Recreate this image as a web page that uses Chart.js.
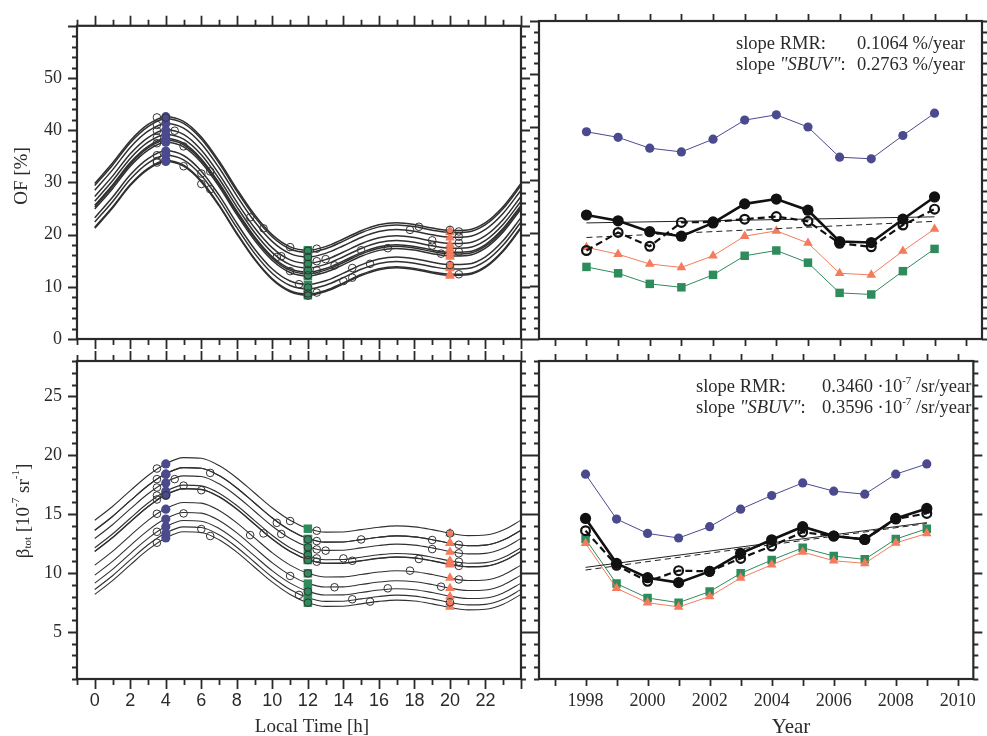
<!DOCTYPE html>
<html><head><meta charset="utf-8">
<script src="https://cdn.jsdelivr.net/npm/chart.js@4.4.1/dist/chart.umd.min.js"></script>
<style>
html,body{margin:0;padding:0;background:#fff;}
#wrap{position:relative;width:987px;height:736px;overflow:hidden;background:#fff;}
#wrap canvas{position:absolute;left:0;top:0;}
</style></head>
<body><div id="wrap">
<canvas id="cTL" width="987" height="736"></canvas>
<canvas id="cTR" width="987" height="736"></canvas>
<canvas id="cBL" width="987" height="736"></canvas>
<canvas id="cBR" width="987" height="736"></canvas>
</div>
<script>
// ---------------- data ----------------
const years = [1998,1999,2000,2001,2002,2003,2004,2005,2006,2007,2008,2009];
// OF [%]
const of04h  = [39.1, 38.05, 36.0, 35.3, 37.7, 41.3, 42.3, 40.0, 34.3, 34.0, 38.4, 42.6];
const of12h  = [13.6, 12.4, 10.4, 9.75, 12.1, 15.7, 16.7, 14.4, 8.7, 8.4, 12.8, 17.0];
const of20h  = [17.3, 16.0, 14.15, 13.5, 15.7, 19.4, 20.4, 18.1, 12.4, 12.1, 16.6, 20.75];
const ofRMR  = [23.4, 22.3, 20.25, 19.4, 21.9, 25.5, 26.4, 24.3, 18.4, 18.2, 22.6, 26.8];
const ofSBUV = [16.7, 20.1, 17.5, 22.0, 22.1, 22.6, 23.1, 22.2, 18.05, 17.4, 21.5, 24.5];
const ofTrendYears = [1998, 2009];
const ofTrendRMR  = [21.9, 23.05];
const ofTrendSBUV = [19.15, 22.2];
// beta_tot [1e-7 sr^-1]
const b04h  = [18.39, 14.58, 13.36, 12.97, 13.93, 15.42, 16.58, 17.65, 16.95, 16.69, 18.39, 19.26];
const b12h  = [12.88, 9.1, 7.88, 7.48, 8.42, 9.97, 11.1, 12.14, 11.44, 11.16, 12.88, 13.76];
const b20h  = [12.52, 8.7, 7.48, 7.12, 8.0, 9.58, 10.7, 11.78, 11.04, 10.82, 12.55, 13.36];
const bRMR  = [14.63, 10.82, 9.6, 9.18, 10.14, 11.67, 12.82, 13.93, 13.14, 12.85, 14.63, 15.48];
const bSBUV = [13.59, 10.65, 9.29, 10.2, 10.14, 11.24, 12.29, 13.47, 13.14, 12.85, 14.58, 15.06];
const bTrendRMR  = [10.48, 14.28];
const bTrendSBUV = [10.25, 14.2];
// diurnal curve shapes (deviation from the yearly mean), read hourly from 0 to 24 h
const hours = [0,1,2,3,4,5,6,7,8,9,10,11,12,13,14,15,16,17,18,19,20,21,22,23,24];
const ofShape = [3.0,6.9,11.2,14.3,15.8,14.9,11.9,7.3,1.92,-3.0,-6.85,-9.15,-9.8,-9.1,-7.64,-6.05,-4.92,-4.54,-4.87,-5.55,-6.0,-5.9,-4.5,-1.4,3.0];
const bShape  = [-1.0,0.17,1.51,2.80,3.80,4.32,4.26,3.64,2.59,1.31,0.04,-1.0,-1.70,-2.01,-2.00,-1.80,-1.59,-1.48,-1.56,-1.80,-2.10,-2.31,-2.26,-1.83,-1.0];
// open circles on the diurnal panels (local time, value)
const ofCircT = [3.5,3.5,3.5,3.5,3.5,3.5,3.5,3.5,4,4.5,5,5,6,6,6.5,6.5,8.75,9.5,10.25,10.5,11,11,11.5,12,12,12,12,12,12,12,12,12.5,12.5,12.5,12.5,13,13.5,14,14.5,14.5,15,15.5,16.5,17.75,18.25,19,19,19.5,20,20,20.5,20.5,20.5,20.5,20.5];
const ofCircV = [42.45,41.0,39.9,38.6,37.5,35.2,34.1,33.8,42.4,39.9,36.9,33.1,31.7,29.7,32.1,28.7,23.3,21.2,15.7,15.85,17.6,13.0,10.5,16.9,15.7,14.4,13.15,12.2,9.87,8.74,8.3,17.3,14.9,13.15,8.9,15.3,14.1,11.1,13.6,11.75,17.0,14.4,17.4,20.9,21.5,18.9,17.9,16.35,20.9,14.15,20.6,19.6,18.4,16.7,12.4];
const bCircT = [3.5,3.5,3.5,3.5,3.5,3.5,3.5,3.5,4,4.5,5,5,6,6,6.5,6.5,8.75,9.5,10.25,10.5,11,11,11.5,12,12,12,12,12,12,12,12.5,12.5,12.5,12.5,12.5,13,13.5,14,14.5,14.5,15,15.5,16.5,17.75,18.25,19,19,19.5,20,20,20.5,20.5,20.5,20.5,20.5];
const bCircV = [18.87,17.97,17.26,16.58,16.24,15.03,13.5,12.57,16.6,17.97,17.42,15.06,17.03,13.73,18.5,13.14,13.22,13.36,14.26,13.31,14.41,9.75,8.14,12.85,12.18,11.53,11.1,9.97,8.42,7.48,13.59,12.71,12.0,11.24,10.96,11.9,8.79,11.24,11.04,7.77,12.85,7.57,8.7,10.2,11.19,12.8,12.03,8.84,13.36,7.51,12.4,11.67,10.96,10.6,9.45];
// tick labels
const hourTickLabels = [0,2,4,6,8,10,12,14,16,18,20,22];
const yearTickLabels = [1998,2000,2002,2004,2006,2008,2010];
const ofTickLabels = [0,10,20,30,40,50];
const bTickLabels = [5,10,15,20,25];

// ---------------- styling ----------------
const SERIF = "'Liberation Serif','Times New Roman',serif";
const SANS = "'Liberation Sans',Arial,sans-serif";
const INK = '#2a2a2a';
const PURPLE = '#4b4a8e', GREEN = '#2e8b5c', ORANGE = '#f47b5b';
const W = 987, H = 736;

function tickList(from, to, step, majEvery, majLen, minLen) {
  const out = [];
  for (let v = from; v <= to + 1e-9; v += step) {
    const r = v / majEvery;
    out.push([v, Math.abs(r - Math.round(r)) < 1e-6 ? majLen : minLen]);
  }
  return out;
}

function drawRuns(ctx, runs, x, y, align) {
  let total = 0;
  runs.forEach(r => {
    ctx.font = (r.italic ? 'italic ' : '') + r.size + 'px ' + SERIF;
    r.w = ctx.measureText(r.t).width; total += r.w;
  });
  let cx = align === 'center' ? x - total / 2 : x;
  ctx.textAlign = 'left';
  runs.forEach(r => {
    ctx.font = (r.italic ? 'italic ' : '') + r.size + 'px ' + SERIF;
    ctx.fillText(r.t, cx, y + (r.dy || 0));
    cx += r.w;
  });
}

const panelCfg = {
  cTL: {
    xTicks: tickList(-1, 24, 1, 2, 10, 6), yTicks: tickList(0, 60, 2, 10, 9, 5),
    texts(ctx) {
      ctx.save(); ctx.translate(22, 176); ctx.rotate(-Math.PI / 2);
      ctx.textBaseline = 'middle'; ctx.fillStyle = INK;
      drawRuns(ctx, [{t: 'OF [%]', size: 19}], 0, 0, 'center');
      ctx.restore();
    }
  },
  cTR: {
    xTicks: tickList(1997, 2010, 1, 1, 7, 7), yTicks: tickList(0, 60, 2, 10, 9, 5),
    texts(ctx) {
      ctx.fillStyle = INK; ctx.textBaseline = 'alphabetic';
      drawRuns(ctx, [{t: 'slope RMR:', size: 18.5}], 736, 49);
      drawRuns(ctx, [{t: '0.1064 %/year', size: 18.5}], 857, 49);
      drawRuns(ctx, [{t: 'slope ', size: 18.5}, {t: '"SBUV"', size: 18.5, italic: true}, {t: ':', size: 18.5}], 736, 70);
      drawRuns(ctx, [{t: '0.2763 %/year', size: 18.5}], 857, 70);
    }
  },
  cBL: {
    xTicks: tickList(-1, 24, 1, 2, 10, 6), yTicks: tickList(1, 28, 1, 5, 9, 5),
    texts(ctx) {
      ctx.fillStyle = INK;
      ctx.save(); ctx.translate(24, 511); ctx.rotate(-Math.PI / 2);
      ctx.textBaseline = 'middle';
      drawRuns(ctx, [{t: 'β', size: 19}, {t: 'tot', size: 11, dy: 4}, {t: ' [10', size: 19}, {t: '-7', size: 11, dy: -8},
                     {t: ' sr', size: 19}, {t: '-1', size: 11, dy: -8}, {t: ']', size: 19}], 0, 0, 'center');
      ctx.restore();
      ctx.textBaseline = 'middle';
      drawRuns(ctx, [{t: 'Local Time [h]', size: 19}], 312, 727, 'center');
    }
  },
  cBR: {
    xTicks: tickList(1997, 2010, 1, 1, 7, 7), yTicks: tickList(1, 28, 1, 5, 9, 5),
    texts(ctx) {
      ctx.fillStyle = INK; ctx.textBaseline = 'middle';
      drawRuns(ctx, [{t: 'Year', size: 21}], 791, 727, 'center');
      ctx.textBaseline = 'alphabetic';
      drawRuns(ctx, [{t: 'slope RMR:', size: 18.5}], 696, 392);
      drawRuns(ctx, [{t: '0.3460 ·10', size: 18.5}, {t: '-7', size: 11, dy: -8}, {t: ' /sr/year', size: 18.5}], 822, 392);
      drawRuns(ctx, [{t: 'slope ', size: 18.5}, {t: '"SBUV"', size: 18.5, italic: true}, {t: ':', size: 18.5}], 696, 413);
      drawRuns(ctx, [{t: '0.3596 ·10', size: 18.5}, {t: '-7', size: 11, dy: -8}, {t: ' /sr/year', size: 18.5}], 822, 413);
    }
  }
};

const framePlugin = {
  id: 'frameTicks',
  afterDraw(chart) {
    const cfg = panelCfg[chart.canvas.id];
    const ctx = chart.ctx, a = chart.chartArea, sx = chart.scales.x, sy = chart.scales.y;
    ctx.save();
    ctx.strokeStyle = INK; ctx.lineWidth = 1.8;
    ctx.beginPath();
    cfg.xTicks.forEach(([v, len]) => {
      const p = Math.round(sx.getPixelForValue(v)) + 0.5;
      ctx.moveTo(p, a.top); ctx.lineTo(p, a.top - len);
      ctx.moveTo(p, a.bottom); ctx.lineTo(p, a.bottom + len);
    });
    cfg.yTicks.forEach(([v, len]) => {
      const p = Math.round(sy.getPixelForValue(v)) + 0.5;
      ctx.moveTo(a.left, p); ctx.lineTo(a.left - len, p);
      ctx.moveTo(a.right, p); ctx.lineTo(a.right + len, p);
    });
    ctx.stroke();
    ctx.lineWidth = 2.2;
    ctx.strokeRect(a.left, a.top, a.right - a.left, a.bottom - a.top);
    cfg.texts(ctx);
    ctx.restore();
  }
};

function areaOpts(l, t, r, b, yW, xH) {
  return {autoPadding: false, padding: {left: l - yW, top: t, right: W - r, bottom: H - b - xH}};
}
const baseOpts = {
  responsive: false, animation: false, events: [],
  plugins: {legend: {display: false}, tooltip: {enabled: false}, title: {display: false}}
};

// ---------------- diurnal panels ----------------
function diurnalDatasets(shape, means, v04, v12, v20, circT, circV, curveWidth) {
  const ds = [];
  means.forEach((m, i) => {
    ds.push({
      label: 'fit ' + years[i],
      data: hours.map((h, k) => ({x: h, y: +(shape[k] + m).toFixed(3)})),
      borderColor: '#303030', borderWidth: curveWidth, pointRadius: 0,
      cubicInterpolationMode: 'monotone', fill: false, order: 3
    });
  });
  ds.push({label: '4h', data: v04.map(v => ({x: 4, y: v})), showLine: false,
    pointStyle: 'circle', pointRadius: 4.6, pointBackgroundColor: PURPLE, pointBorderColor: PURPLE, pointBorderWidth: 0, order: 2});
  ds.push({label: '12h', data: v12.map(v => ({x: 12, y: v})), showLine: false,
    pointStyle: 'rect', pointRadius: 6, pointBackgroundColor: GREEN, pointBorderColor: GREEN, pointBorderWidth: 0, order: 2});
  ds.push({label: '20h', data: v20.map(v => ({x: 20, y: v})), showLine: false,
    pointStyle: 'triangle', pointRadius: 5.6, pointBackgroundColor: ORANGE, pointBorderColor: ORANGE, pointBorderWidth: 0, order: 2});
  ds.push({label: 'SBUV samples', data: circT.map((t, i) => ({x: t, y: circV[i]})), showLine: false,
    pointStyle: 'circle', pointRadius: 3.8, pointBackgroundColor: 'rgba(0,0,0,0)', pointBorderColor: '#333', pointBorderWidth: 1, order: 1});
  return ds;
}

new Chart(document.getElementById('cTL'), {
  type: 'line',
  data: {datasets: diurnalDatasets(ofShape, ofRMR, of04h, of12h, of20h, ofCircT, ofCircV, 1.5)},
  options: Object.assign({}, baseOpts, {
    layout: areaOpts(77, 21, 521, 339, 40, 0),
    scales: {
      x: {type: 'linear', display: false, min: -1, max: 24},
      y: {type: 'linear', min: 0, max: 60,
        afterFit: s => { s.width = 40; },
        afterBuildTicks: s => { s.ticks = ofTickLabels.map(v => ({value: v})); },
        ticks: {padding: 15, color: INK, font: {family: SERIF, size: 18}},
        grid: {display: false, drawTicks: false}, border: {display: false}}
    }
  }),
  plugins: [framePlugin]
});

new Chart(document.getElementById('cBL'), {
  type: 'line',
  data: {datasets: diurnalDatasets(bShape, bRMR, b04h, b12h, b20h, bCircT, bCircV, 1.1)},
  options: Object.assign({}, baseOpts, {
    layout: areaOpts(77, 361, 521, 679, 40, 40),
    scales: {
      x: {type: 'linear', min: -1, max: 24,
        afterFit: s => { s.height = 40; },
        afterBuildTicks: s => { s.ticks = hourTickLabels.map(v => ({value: v})); },
        ticks: {padding: 11, color: INK, maxRotation: 0, autoSkip: false, font: {family: SANS, size: 18}},
        grid: {display: false, drawTicks: false}, border: {display: false}},
      y: {type: 'linear', min: 1, max: 28,
        afterFit: s => { s.width = 40; },
        afterBuildTicks: s => { s.ticks = bTickLabels.map(v => ({value: v})); },
        ticks: {padding: 15, color: INK, font: {family: SERIF, size: 18}},
        grid: {display: false, drawTicks: false}, border: {display: false}}
    }
  }),
  plugins: [framePlugin]
});

// ---------------- yearly panels ----------------
function yearlyDatasets(v04, v12, v20, rmr, sbuv, trR, trS) {
  const pts = arr => years.map((y, i) => ({x: y, y: arr[i]}));
  const tr = arr => ofTrendYears.map((y, i) => ({x: y, y: arr[i]}));
  return [
    {label: 'RMR mean', data: pts(rmr), borderColor: '#111', borderWidth: 2.6, pointStyle: 'circle', pointRadius: 5.6,
      pointBackgroundColor: '#111', pointBorderColor: '#111', pointBorderWidth: 0, tension: 0, order: 1},
    {label: 'SBUV mean', data: pts(sbuv), borderColor: '#111', borderWidth: 2.2, borderDash: [7, 4], pointStyle: 'circle', pointRadius: 4.4,
      pointBackgroundColor: 'rgba(255,255,255,0)', pointBorderColor: '#111', pointBorderWidth: 2.2, tension: 0, order: 2},
    {label: 'trend RMR', data: tr(trR), borderColor: '#222', borderWidth: 1, pointRadius: 0, order: 3},
    {label: 'trend SBUV', data: tr(trS), borderColor: '#222', borderWidth: 1, borderDash: [6, 4], pointRadius: 0, order: 3},
    {label: '4h', data: pts(v04), borderColor: PURPLE, borderWidth: 1, pointStyle: 'circle', pointRadius: 4.6,
      pointBackgroundColor: PURPLE, pointBorderColor: PURPLE, pointBorderWidth: 0, tension: 0, order: 4},
    {label: '20h', data: pts(v20), borderColor: ORANGE, borderWidth: 1, pointStyle: 'triangle', pointRadius: 5.6,
      pointBackgroundColor: ORANGE, pointBorderColor: ORANGE, pointBorderWidth: 0, tension: 0, order: 5},
    {label: '12h', data: pts(v12), borderColor: GREEN, borderWidth: 1, pointStyle: 'rect', pointRadius: 6,
      pointBackgroundColor: GREEN, pointBorderColor: GREEN, pointBorderWidth: 0, tension: 0, order: 5}
  ];
}

new Chart(document.getElementById('cTR'), {
  type: 'line',
  data: {datasets: yearlyDatasets(of04h, of12h, of20h, ofRMR, ofSBUV, ofTrendRMR, ofTrendSBUV)},
  options: Object.assign({}, baseOpts, {
    layout: areaOpts(539, 21, 982, 339, 0, 0),
    scales: {
      x: {type: 'linear', display: false, min: 1996.5, max: 2010.5},
      y: {type: 'linear', display: false, min: 0, max: 60}
    }
  }),
  plugins: [framePlugin]
});

new Chart(document.getElementById('cBR'), {
  type: 'line',
  data: {datasets: yearlyDatasets(b04h, b12h, b20h, bRMR, bSBUV, bTrendRMR, bTrendSBUV)},
  options: Object.assign({}, baseOpts, {
    layout: areaOpts(539, 361, 982, 679, 0, 40),
    scales: {
      x: {type: 'linear', min: 1996.5, max: 2010.5,
        afterFit: s => { s.height = 40; },
        afterBuildTicks: s => { s.ticks = yearTickLabels.map(v => ({value: v})); },
        ticks: {padding: 11, color: INK, maxRotation: 0, autoSkip: false, font: {family: SERIF, size: 18},
          callback: v => String(v)},
        grid: {display: false, drawTicks: false}, border: {display: false}},
      y: {type: 'linear', display: false, min: 1, max: 28}
    }
  }),
  plugins: [framePlugin]
});
</script>
</body></html>
